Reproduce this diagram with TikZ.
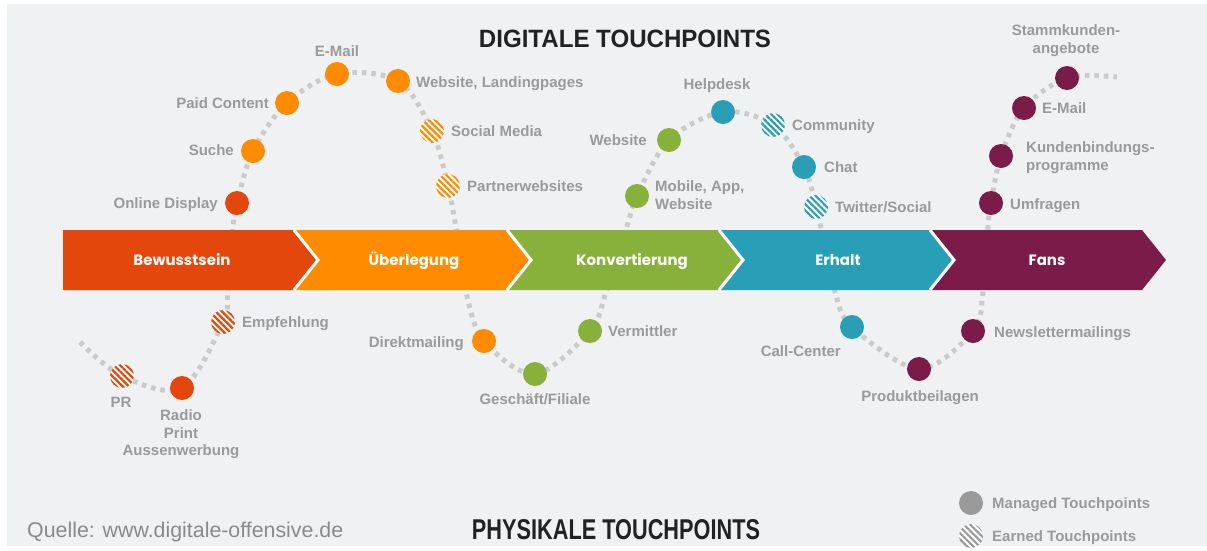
\documentclass[tikz,border=0pt]{standalone}
\usepackage{fontspec}
\usepackage{graphicx}
\setmainfont{Liberation Sans}
\newfontfamily\bandfont{Poppins}
\usetikzlibrary{patterns.meta}
\definecolor{bgc}{HTML}{F0F1F3}
\definecolor{redc}{HTML}{E3470C}
\definecolor{orangec}{HTML}{FF8B00}
\definecolor{greenc}{HTML}{88B13B}
\definecolor{tealc}{HTML}{289FB7}
\definecolor{purplec}{HTML}{7A1B4A}
\definecolor{lblgray}{HTML}{9A9A9A}
\definecolor{pathgray}{HTML}{CBCBCB}
\definecolor{titlec}{HTML}{222222}
\definecolor{srcgray}{HTML}{8A8A8A}
\tikzset{
  lbl/.style={font=\fontsize{15}{17.5}\selectfont\bfseries, text=lblgray, inner sep=0pt},
  dot/.style={circle, minimum size=24pt, inner sep=0pt, fill=#1},
  hdot/.style={circle, minimum size=24pt, inner sep=0pt, preaction={fill=white},
    pattern={Lines[angle=-45,distance=4.4pt,line width=2.2pt]}, pattern color=#1},
  wave/.style={draw=pathgray, line width=5pt, dash pattern=on 4.5pt off 5pt},
  bandlbl/.style={font=\bandfont\fontsize{15}{18}\selectfont\bfseries, text=white, inner sep=0pt, anchor=base},
  sep/.style={draw=white, line width=3pt}
}
\begin{document}
\begin{tikzpicture}[x=1pt,y=-1pt]
\useasboundingbox (0,0) rectangle (1207,550);
\fill[white] (0,0) rectangle (1207,550);
\fill[bgc] (7,4) rectangle (1207,546);

% wave coordinates
\coordinate (t0) at (80,342);
\coordinate (pr) at (122,376);
\coordinate (radio) at (182,388);
\coordinate (empf) at (223,322);
\coordinate (b1) at (228,290);
\coordinate (b2) at (233,228);
\coordinate (online) at (237,203);
\coordinate (suche) at (253,151);
\coordinate (paid) at (287,103);
\coordinate (emaila) at (337,74);
\coordinate (weblp) at (398,81);
\coordinate (social) at (432,131);
\coordinate (partner) at (448,186);
\coordinate (b3) at (456,228);
\coordinate (b4) at (466,292);
\coordinate (direkt) at (484,341);
\coordinate (gesch) at (535,374);
\coordinate (verm) at (590,331);
\coordinate (b5) at (606,292);
\coordinate (b6) at (627,226);
\coordinate (mobile) at (637,196);
\coordinate (webb) at (669,140);
\coordinate (help) at (723,112);
\coordinate (comm) at (773,125);
\coordinate (chat) at (804,167);
\coordinate (twit) at (816,207);
\coordinate (b7) at (821,228);
\coordinate (b8) at (835,292);
\coordinate (call) at (852,327);
\coordinate (produkt) at (919,369);
\coordinate (news) at (973,331);
\coordinate (b9) at (983,292);
\coordinate (b10) at (988,226);
\coordinate (umfr) at (991,203);
\coordinate (kunden) at (1001,156);
\coordinate (emailb) at (1024,108);
\coordinate (stamm) at (1067,78);
\coordinate (t1) at (1117,77);

\draw[wave] plot[smooth, tension=0.55] coordinates {(t0) (pr) (radio) (empf) (b1) (b2) (online) (suche) (paid) (emaila) (weblp) (social) (partner) (b3) (b4) (direkt) (gesch) (verm) (b5) (b6) (mobile) (webb) (help) (comm) (chat) (twit) (b7) (b8) (call) (produkt) (news) (b9) (b10) (umfr) (kunden) (emailb) (stamm) (t1)};

% band
\fill[redc] (63,230) -- (294,230) -- (318,260) -- (294,290) -- (63,290) -- cycle;
\fill[orangec] (294,230) -- (507,230) -- (531,260) -- (507,290) -- (294,290) -- (318,260) -- cycle;
\fill[greenc] (507,230) -- (719,230) -- (743,260) -- (719,290) -- (507,290) -- (531,260) -- cycle;
\fill[tealc] (719,230) -- (930,230) -- (954,260) -- (930,290) -- (719,290) -- (743,260) -- cycle;
\fill[purplec] (930,230) -- (1142,230) -- (1166,260) -- (1142,290) -- (930,290) -- (954,260) -- cycle;
\draw[sep] (294,230) -- (318,260) -- (294,290);
\draw[sep] (507,230) -- (531,260) -- (507,290);
\draw[sep] (719,230) -- (743,260) -- (719,290);
\draw[sep] (930,230) -- (954,260) -- (930,290);

\node[bandlbl] (lb1) at (182,265) {Bewusstsein};
\node[bandlbl] (lb2) at (414,265) {Überlegung};
\node[bandlbl] (lb3) at (632,265) {Konvertierung};
\node[bandlbl] (lb4) at (838,265) {Erhalt};
\node[bandlbl] (lb5) at (1047,265) {Fans};

% dots
\node[hdot=redc] (dpr) at (pr) {};
\node[dot=redc] (dradio) at (radio) {};
\node[hdot=redc] (dempf) at (empf) {};
\node[dot=redc] (donline) at (online) {};
\node[dot=orangec] (dsuche) at (suche) {};
\node[dot=orangec] (dpaid) at (paid) {};
\node[dot=orangec] (demaila) at (emaila) {};
\node[dot=orangec] (dweblp) at (weblp) {};
\node[hdot=orangec] (dsocial) at (social) {};
\node[hdot=orangec] (dpartner) at (partner) {};
\node[dot=orangec] (ddirekt) at (direkt) {};
\node[dot=greenc] (dgesch) at (gesch) {};
\node[dot=greenc] (dverm) at (verm) {};
\node[dot=greenc] (dmobile) at (mobile) {};
\node[dot=greenc] (dwebb) at (webb) {};
\node[dot=tealc] (dhelp) at (help) {};
\node[hdot=tealc] (dcomm) at (comm) {};
\node[dot=tealc] (dchat) at (chat) {};
\node[hdot=tealc] (dtwit) at (twit) {};
\node[dot=tealc] (dcall) at (call) {};
\node[dot=purplec] (dprodukt) at (produkt) {};
\node[dot=purplec] (dnews) at (news) {};
\node[dot=purplec] (dumfr) at (umfr) {};
\node[dot=purplec] (dkunden) at (kunden) {};
\node[dot=purplec] (demailb) at (emailb) {};
\node[dot=purplec] (dstamm) at (stamm) {};

% labels
\node[lbl, anchor=base] (lpr) at (121,407) {PR};
\node[lbl, anchor=north, align=center] (lradio) at (181,409.5) {Radio\\Print\\Aussenwerbung};
\node[lbl, anchor=base west] (lempf) at (242,327) {Empfehlung};
\node[lbl, anchor=base east] (lonline) at (218,208) {Online Display};
\node[lbl, anchor=base east] (lsuche) at (234,155) {Suche};
\node[lbl, anchor=base east] (lpaid) at (269,108) {Paid Content};
\node[lbl, anchor=base] (lemaila) at (337,56) {E-Mail};
\node[lbl, anchor=base west] (lweblp) at (416,87) {Website, Landingpages};
\node[lbl, anchor=base west] (lsocial) at (451,136) {Social Media};
\node[lbl, anchor=base west] (lpartner) at (467,191) {Partnerwebsites};
\node[lbl, anchor=base east] (ldirekt) at (464,347) {Direktmailing};
\node[lbl, anchor=base] (lgesch) at (535,404) {Geschäft/Filiale};
\node[lbl, anchor=base west] (lverm) at (608,336) {Vermittler};
\node[lbl, anchor=north west, align=left] (lmobile) at (655,180.7) {Mobile, App,\\Website};
\node[lbl, anchor=base east] (lwebb) at (647,145) {Website};
\node[lbl, anchor=base] (lhelp) at (717,89) {Helpdesk};
\node[lbl, anchor=base west] (lcomm) at (792,130) {Community};
\node[lbl, anchor=base west] (lchat) at (824,172) {Chat};
\node[lbl, anchor=base west] (ltwit) at (835,212) {Twitter/Social};
\node[lbl, anchor=base east] (lcall) at (841,356) {Call-Center};
\node[lbl, anchor=base] (lprodukt) at (920,401) {Produktbeilagen};
\node[lbl, anchor=base west] (lnews) at (994,337) {Newslettermailings};
\node[lbl, anchor=base west] (lumfr) at (1010,209) {Umfragen};
\node[lbl, anchor=north west, align=left] (lkunden) at (1026,141.5) {Kundenbindungs-\\programme};
\node[lbl, anchor=base west] (lemailb) at (1042,113) {E-Mail};
\node[lbl, anchor=north, align=center] (lstamm) at (1066,24.5) {Stammkunden-\\angebote};

% titles
\node[inner sep=0pt, text=titlec, anchor=center] (title1) at (625,39) {\resizebox{292pt}{17.5pt}{\bfseries DIGITALE TOUCHPOINTS}};
\node[inner sep=0pt, text=titlec, anchor=center] (title2) at (616,530) {\resizebox{288pt}{20pt}{\bfseries PHYSIKALE TOUCHPOINTS}};
\node[inner sep=0pt, text=srcgray, anchor=base west] (src) at (27,537) {\resizebox{316pt}{!}{\fontsize{20}{24}\selectfont Quelle: www.digitale-offensive.de}};

% legend
\node[dot=lblgray] (lgm) at (971,503) {};
\node[hdot=lblgray] (lge) at (971,536) {};
\node[lbl, anchor=base west] (lgmt) at (992,508) {Managed Touchpoints};
\node[lbl, anchor=base west] (lget) at (992,541) {Earned Touchpoints};
\end{tikzpicture}
\end{document}
